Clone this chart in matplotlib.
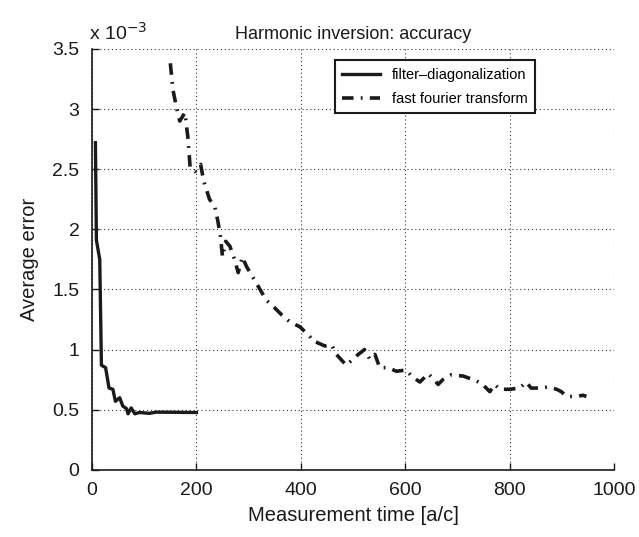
import matplotlib
matplotlib.use("Agg")
import matplotlib.pyplot as plt
from matplotlib.ticker import FuncFormatter

plt.rcParams["font.family"] = ["Liberation Sans", "DejaVu Sans"]

# filter-diagonalization (error in units of 1e-3)
fd_time = [6.5, 8.4, 14.8, 18, 26, 32.6, 40, 44.8, 53, 59, 66, 69, 75, 82, 91, 110, 123, 200]
fd_err = [2.72, 1.91, 1.75, 0.87, 0.85, 0.68, 0.67, 0.57, 0.60, 0.53, 0.51, 0.466, 0.515, 0.466,
          0.477, 0.47, 0.48, 0.477]

# fast fourier transform (error in units of 1e-3)
fft_time = [150, 155, 162, 168, 178, 184, 188, 197, 208, 214, 225, 235, 241, 246, 250, 256, 264,
            273, 280, 288, 296, 315, 334, 347, 363, 379, 398, 417, 420, 446, 459, 468, 487, 510,
            522, 532, 542, 551, 567, 583, 602, 612, 628, 644, 653, 663, 672, 688, 711, 730, 746,
            762, 771, 781, 800, 819, 832, 841, 858, 874, 890, 899, 909, 925, 941, 947]
fft_err = [3.38, 3.16, 3.01, 2.90, 2.97, 2.75, 2.51, 2.48, 2.54, 2.40, 2.25, 2.19, 2.07, 1.94, 1.77,
           1.90, 1.86, 1.75, 1.64, 1.77, 1.69, 1.55, 1.41, 1.36, 1.29, 1.23, 1.19, 1.11, 1.08, 1.03,
           1.04, 0.96, 0.87, 0.96, 1.00, 0.92, 0.96, 0.85, 0.85, 0.82, 0.83, 0.78, 0.73, 0.80, 0.76,
           0.71, 0.75, 0.79, 0.78, 0.75, 0.72, 0.65, 0.71, 0.67, 0.67, 0.68, 0.73, 0.68, 0.68, 0.69,
           0.67, 0.65, 0.61, 0.61, 0.62, 0.61]

x_ticks = [0, 200, 400, 600, 800, 1000]
y_ticks = [0, 0.5, 1, 1.5, 2, 2.5, 3, 3.5]

fig = plt.figure(figsize=(6.39, 5.37), dpi=100)
ax = fig.add_axes([0.144, 0.125, 0.817, 0.784])

ax.plot(fd_time, fd_err, color="#1a1a1a", lw=2.4, label="filter\u2013diagonalization")
ax.plot(fft_time, fft_err, color="#1a1a1a", lw=2.6, dashes=(3.2, 2, 0.5, 2),
        label="fast fourier transform")

ax.set_xlim(0, 1000)
ax.set_ylim(0, 3.5)
ax.set_xticks(x_ticks)
ax.set_yticks(y_ticks)
ax.yaxis.set_major_formatter(FuncFormatter(lambda v, p: f"{v:g}"))
ax.tick_params(direction="in", labelsize=14, length=5, width=1, pad=9, colors="#1a1a1a")
ax.grid(True, linestyle=(0, (1, 2.5)), color="#333333", lw=0.8)

for side in ("top", "right"):
    ax.spines[side].set_visible(False)
for side in ("left", "bottom"):
    ax.spines[side].set_linewidth(1.2)
    ax.spines[side].set_color("#1a1a1a")

ax.set_xlabel("Measurement time [a/c]", fontsize=14.5, color="#1a1a1a", labelpad=5)
ax.set_ylabel("Average error", fontsize=14.5, color="#1a1a1a", labelpad=10)
ax.set_title("Harmonic inversion: accuracy", fontsize=13, color="#1a1a1a", pad=7)
ax.text(-0.005, 1.012, "x 10$^{-3}$", transform=ax.transAxes, fontsize=14, color="#1a1a1a",
        ha="left", va="bottom")

leg = ax.legend(loc="upper right", bbox_to_anchor=(0.862, 0.99), fontsize=10.5, fancybox=False,
                framealpha=1, edgecolor="#1a1a1a", handlelength=2.6, borderpad=0.5,
                labelspacing=0.7)
leg.get_frame().set_linewidth(1.5)

fig.savefig("out.png", dpi=100)
